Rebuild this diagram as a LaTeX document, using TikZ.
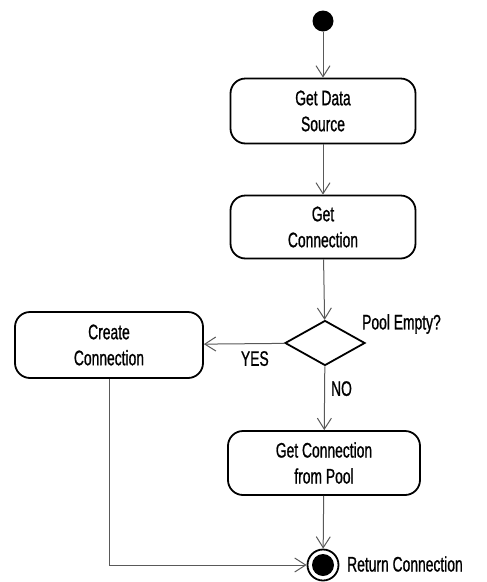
\documentclass[tikz,border=0pt]{standalone}
\usepackage{fontspec}
\setmainfont{Liberation Sans}[FakeStretch=0.66,FakeBold=0.9]
\usetikzlibrary{shapes.geometric,arrows.meta}

\begin{document}
\begin{tikzpicture}[x=1pt,y=-1pt,
	activity/.style={draw=black, line width=1.8pt, rounded corners=15pt,
		align=center, font=\fontsize{21}{26}\selectfont, inner sep=0pt},
	flow/.style={draw=black!65, line width=1pt,
		-{Straight Barb[length=11pt,width=14pt,line width=1pt]}},
	lbl/.style={font=\fontsize{21}{22}\selectfont, inner sep=0pt},
	]
	\useasboundingbox (0,0) rectangle (487,582);

	\node[circle, fill=black, minimum size=21pt, inner sep=0pt] (start) at (323,21) {};
	\node[activity, minimum width=185pt, minimum height=65pt] (source) at (323,111) {Get Data\\Source};
	\node[activity, minimum width=185pt, minimum height=63pt] (getconn) at (323,227) {Get\\Connection};
	\node[diamond, draw=black, line width=1.8pt, aspect=1.78, minimum width=80pt,
		minimum height=45pt, inner sep=0pt] (empty) at (325,343) {};
	\node[activity, minimum width=188pt, minimum height=66pt] (create) at (109,345) {Create\\Connection};
	\node[activity, minimum width=192pt, minimum height=64pt] (pool) at (324,463) {Get Connection\\from Pool};
	\node[circle, draw=black, line width=1.8pt, minimum size=31pt, inner sep=0pt] (stop) at (323,565) {};
	\node[circle, fill=black, minimum size=22pt, inner sep=0pt] at (stop) {};

	% labels
	\node[lbl, anchor=west] (question) at (362,324) {Pool Empty?};
	\node[lbl, anchor=west] (retlabel) at (347,564) {Return Connection};

	% transitions
	\draw[flow] (start) -- (source);
	\draw[flow] (source) -- (getconn);
	\draw[flow] (getconn) -- (empty);
	\draw[flow] (empty) -- node[lbl, below=7pt, pos=0.37] {YES} (create);
	\draw[flow] (empty) -- node[lbl, right=6pt, pos=0.35] {NO} (pool);
	\draw[flow] (pool) -- (stop);
	\draw[flow] (create.south) |- (stop);
\end{tikzpicture}
\end{document}
